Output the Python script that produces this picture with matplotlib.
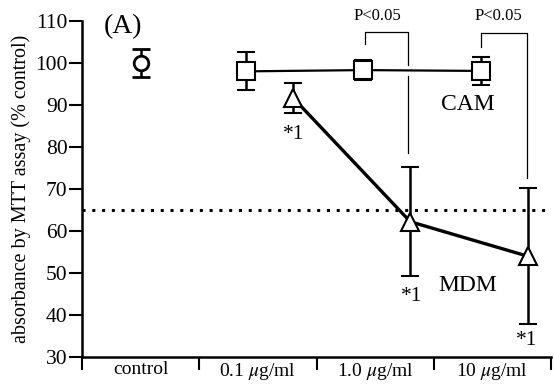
import matplotlib

matplotlib.use("Agg")

import matplotlib.pyplot as plt

plt.rcParams["font.family"] = ["Liberation Serif", "DejaVu Serif"]
plt.rcParams["mathtext.fontset"] = "stix"

CATEGORIES = ["control", "0.1 $\\mu$g/ml", "1.0 $\\mu$g/ml", "10 $\\mu$g/ml"]

CONTROL_MEAN = 100.0
CONTROL_ERR = 3.3

CAM_POS = [0.9, 1.9, 2.9]
CAM_MEAN = [98.0, 98.3, 98.1]
CAM_ERR = [4.5, 2.3, 3.3]

MDM_POS = [1.3, 2.3, 3.3]
MDM_MEAN = [91.7, 62.2, 54.0]
MDM_ERR = [3.5, 13.0, 16.2]

THRESHOLD = 65.0

fig = plt.figure(figsize=(5.54, 3.88), dpi=100)
ax = fig.add_axes([0.148, 0.080, 0.8466, 0.866])

ax.axhline(THRESHOLD, color="black", linewidth=2.2, linestyle=(0, (1, 2.2)), zorder=1)

err_style = dict(ecolor="black", elinewidth=1.8, capsize=6.5, capthick=1.9, zorder=3)

ax.errorbar([0], [CONTROL_MEAN], yerr=[CONTROL_ERR], fmt="o", ms=10.5,
            mfc="white", mec="black", mew=2.0, **err_style)
ax.errorbar(CAM_POS, CAM_MEAN, yerr=CAM_ERR, fmt="-s", ms=13, color="black",
            lw=1.6, mfc="white", mec="black", mew=1.5, **err_style)
ax.errorbar(MDM_POS, MDM_MEAN, yerr=MDM_ERR, fmt="-^", ms=13, color="black",
            lw=2.4, mfc="white", mec="black", mew=1.5, **err_style)

# significance brackets between CAM and MDM
bracket = dict(color="black", linewidth=0.9, zorder=2)
ax.plot([1.91, 1.91, 2.28, 2.28], [104.5, 107.4, 107.4, 99.5], **bracket)
ax.plot([2.28, 2.28], [97.0, 78.6], **bracket)
ax.plot([2.90, 2.90, 3.295, 3.295], [103.8, 107.2, 107.2, 72.6], **bracket)
ax.text(2.02, 111.1, "P<0.05", ha="center", va="center", fontsize=12, clip_on=False)
ax.text(3.05, 111.1, "P<0.05", ha="center", va="center", fontsize=12, clip_on=False)

ax.text(-0.15, 108.6, "(A)", ha="center", va="center", fontsize=20)
ax.text(2.79, 90.0, "CAM", ha="center", va="center", fontsize=17)
ax.text(2.79, 47.1, "MDM", ha="center", va="center", fontsize=17)
for x, y in [(1.308, 82.9), (2.31, 44.5), (3.29, 33.8)]:
    ax.text(x, y, "*1", ha="center", va="center", fontsize=15.5)

ax.set_xlim(-0.5, 3.5)
ax.set_ylim(30, 110)
ax.set_yticks(range(30, 111, 10))
ax.set_xticks([-0.5, 0.5, 1.5, 2.5, 3.5])
ax.set_xticklabels([])
ax.set_xticks(range(len(CATEGORIES)), minor=True)
ax.set_xticklabels(CATEGORIES, minor=True)
ax.tick_params(axis="y", direction="out", length=9.5, width=1.5, labelsize=15.5, pad=1)
ax.tick_params(axis="x", which="major", direction="out", length=9, width=1.5)
ax.tick_params(axis="x", which="minor", length=0, labelsize=14, pad=3)

for side in ["top", "right"]:
    ax.spines[side].set_visible(False)
for side in ["left", "bottom"]:
    ax.spines[side].set_linewidth(1.8)

ax.set_ylabel("absorbance by MTT assay (% control)", fontsize=14.5, labelpad=3)

fig.savefig("out.png", dpi=100)
